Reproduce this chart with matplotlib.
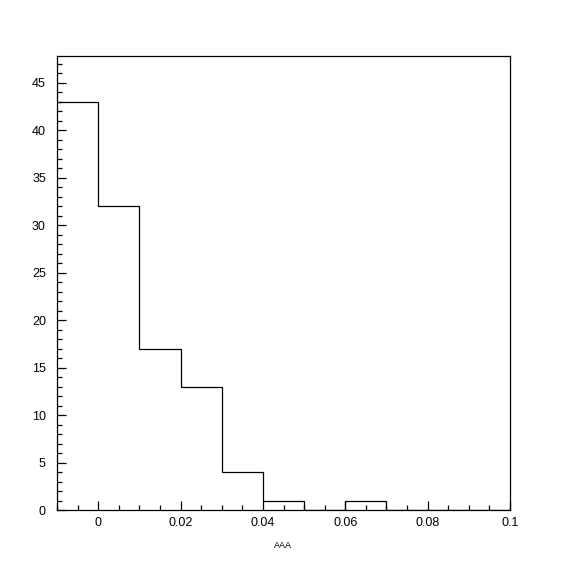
import numpy as np
from matplotlib import pyplot as plt
from matplotlib.ticker import MultipleLocator

plt.rcParams['font.family'] = ['Liberation Sans', 'DejaVu Sans']

# histogram contents, bin width 0.01 from -0.01 to 0.1
bin_edges = [-0.01, 0.0, 0.01, 0.02, 0.03, 0.04, 0.05, 0.06, 0.07, 0.08, 0.09, 0.1]
counts = [43, 32, 17, 13, 4, 1, 0, 1, 0, 0, 0]
x_label = 'AAA'

fig = plt.figure(figsize=(5.67, 5.67), dpi=100)
ax = fig.add_axes([0.1005, 0.1005, 0.799, 0.8007])

ax.stairs(counts, bin_edges, color='black', lw=0.9, baseline=None)

ax.set_xlim(-0.01, 0.1)
ax.set_ylim(0, 47.8)

ax.xaxis.set_major_locator(MultipleLocator(0.02))
ax.xaxis.set_minor_locator(MultipleLocator(0.005))
ax.yaxis.set_major_locator(MultipleLocator(5))
ax.yaxis.set_minor_locator(MultipleLocator(1))
ax.xaxis.set_major_formatter(plt.FuncFormatter(lambda v, p: '{:g}'.format(round(v, 3))))

ax.tick_params(which='both', direction='in', width=0.9, labelsize=9)
ax.tick_params(which='major', length=6.5)
ax.tick_params(which='minor', length=3.3)
ax.tick_params(axis='y', pad=8)
ax.tick_params(axis='x', pad=5)

for s in ax.spines.values():
    s.set_linewidth(0.9)

fig.text(283 / 567, 1 - 546 / 567, x_label, ha='center', va='center', fontsize=6.5)

fig.savefig('out.png', dpi=100)
